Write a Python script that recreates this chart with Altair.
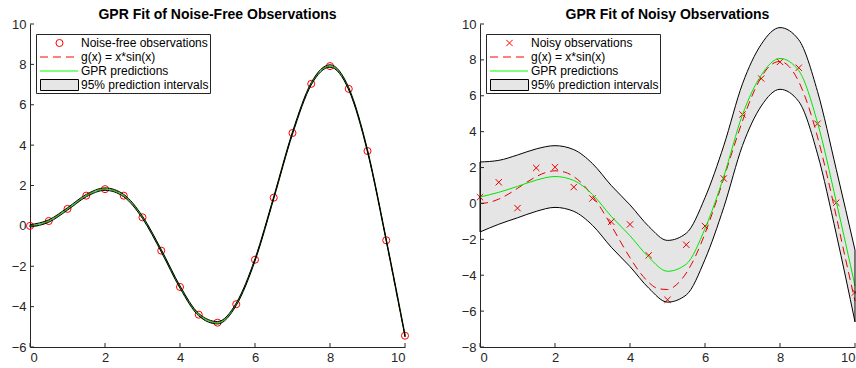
import altair as alt
import pandas as pd

# ---------------- data ----------------
x_obs = [0.0, 0.5, 1.0, 1.5, 2.0, 2.5, 3.0, 3.5, 4.0, 4.5, 5.0,
         5.5, 6.0, 6.5, 7.0, 7.5, 8.0, 8.5, 9.0, 9.5, 10.0]

y_noise_free = [0.0, 0.24, 0.841, 1.496, 1.819, 1.496, 0.423, -1.228, -3.027, -4.399, -4.795,
                -3.88, -1.676, 1.398, 4.599, 7.035, 7.915, 6.787, 3.709, -0.714, -5.44]

y_noisy = [0.35, 1.18, -0.26, 1.98, 2.02, 0.91, 0.28, -1.02, -1.17, -2.89, -5.37,
           -2.3, -1.26, 1.39, 4.96, 6.96, 7.89, 7.56, 4.44, 0.04, -4.96]

x_fine = [0.0, 0.25, 0.5, 0.75, 1.0, 1.25, 1.5, 1.75, 2.0, 2.25, 2.5, 2.75, 3.0, 3.25,
          3.5, 3.75, 4.0, 4.25, 4.5, 4.75, 5.0, 5.25, 5.5, 5.75, 6.0, 6.25, 6.5, 6.75,
          7.0, 7.25, 7.5, 7.75, 8.0, 8.25, 8.5, 8.75, 9.0, 9.25, 9.5, 9.75, 10.0]
g_fine = [0.0, 0.062, 0.24, 0.511, 0.841, 1.186, 1.496, 1.722, 1.819, 1.751, 1.496, 1.05,
          0.423, -0.352, -1.228, -2.144, -3.027, -3.804, -4.399, -4.747, -4.795, -4.509,
          -3.88, -2.923, -1.676, -0.207, 1.398, 3.038, 4.599, 5.972, 7.035, 7.708, 7.915,
          7.612, 6.787, 5.467, 3.709, 1.609, -0.714, -3.115, -5.44]

pred_noise_free = [0.0, 0.24, 0.841, 1.496, 1.819, 1.496, 0.423, -1.228, -3.027, -4.399, -4.795,
                   -3.88, -1.676, 1.398, 4.599, 7.035, 7.915, 6.787, 3.709, -0.714, -5.44]
upper_noise_free = [0.06, 0.30, 0.90, 1.56, 1.88, 1.56, 0.48, -1.17, -2.97, -4.34, -4.74,
                    -3.82, -1.62, 1.46, 4.66, 7.10, 7.98, 6.85, 3.77, -0.65, -5.38]
lower_noise_free = [-0.06, 0.18, 0.78, 1.44, 1.76, 1.44, 0.36, -1.29, -3.09, -4.46, -4.86,
                    -3.94, -1.74, 1.34, 4.54, 6.98, 7.86, 6.73, 3.65, -0.77, -5.50]

pred_noisy = [0.36, 0.62, 0.95, 1.3, 1.5, 1.28, 0.5, -0.72, -1.8, -3.0, -3.78,
              -3.38, -1.4, 1.5, 4.95, 7.15, 8.08, 7.4, 4.5, 0.1, -4.6]
upper_noisy = [2.31, 2.40, 2.70, 3.04, 3.22, 3.00, 2.22, 1.00, -0.08, -1.28, -2.06,
               -1.66, 0.32, 3.22, 6.67, 8.87, 9.80, 9.12, 6.24, 1.90, -2.60]
lower_noisy = [-1.59, -1.16, -0.80, -0.44, -0.22, -0.44, -1.22, -2.44, -3.52, -4.72, -5.50,
               -5.10, -3.12, -0.22, 3.23, 5.43, 6.36, 5.68, 2.76, -1.70, -6.60]

x_tick_values = [0, 2, 4, 6, 8, 10]

# ---------------- style ----------------
W, H = 375, 323
FONT = "Liberation Sans"
AX = "#262626"
RED = "#ff0000"
GREEN = "#00ff00"
X_SHAPE = "M-1,-1L1,1M-1,1L1,-1"


def make_panel(title, y_min, y_max, y_obs, obs_shape, obs_size, obs_label, pred, lower, upper):
    xs = alt.Scale(domain=[0, 10], nice=False, zero=False)
    ys = alt.Scale(domain=[y_min, y_max], nice=False, zero=False)
    y_tick_values = list(range(y_min, y_max + 1, 2))
    common = dict(title=None, grid=False, ticks=False, tickSize=0, domainColor=AX,
                  domainWidth=1, labelColor=AX, labelFont=FONT, labelFontSize=13,
                  format="d", labelPadding=4)
    X = alt.X("x:Q", scale=xs, axis=alt.Axis(values=x_tick_values, **common))
    Y = alt.Y("y:Q", scale=ys, axis=alt.Axis(values=y_tick_values, **common))

    obs_df = pd.DataFrame({"x": x_obs, "y": y_obs})
    fine_df = pd.DataFrame({"x": x_fine, "y": g_fine})
    pred_df = pd.DataFrame({"x": x_obs, "y": pred})
    band_df = pd.DataFrame({"x": x_obs, "y": lower, "y2": upper})
    xt_df = pd.DataFrame({"x": x_tick_values})
    yt_df = pd.DataFrame({"y": y_tick_values})
    one = pd.DataFrame({"i": [0]})

    obs = alt.Chart(obs_df).mark_point(shape=obs_shape, filled=False, color=RED,
                                       strokeWidth=1, size=obs_size, opacity=1).encode(x=X, y=Y)
    g_line = alt.Chart(fine_df).mark_line(color=RED, strokeDash=[8, 5], strokeWidth=1,
                                          interpolate="monotone").encode(x=X, y=Y)
    p_line = alt.Chart(pred_df).mark_line(color=GREEN, strokeWidth=1,
                                          interpolate="monotone").encode(x=X, y=Y)
    band = alt.Chart(band_df).mark_area(fill="black", fillOpacity=0.1, stroke="black",
                                        strokeWidth=1, interpolate="monotone").encode(
        x=X, y=Y, y2=alt.Y2("y2:Q"))
    xt = alt.Chart(xt_df).mark_rule(color=AX, strokeWidth=1).encode(
        x=X, y=alt.value(H), y2=alt.value(H - 4))
    yt = alt.Chart(yt_df).mark_rule(color=AX, strokeWidth=1).encode(
        y=Y, x=alt.value(0), x2=alt.value(4))

    # legend (decoration)
    box = alt.Chart(one).mark_rect(fill="white", stroke=AX, strokeWidth=1).encode(
        x=alt.value(6.5), x2=alt.value(180.5), y=alt.value(10.5), y2=alt.value(69.5))
    rows = [19, 33, 47, 61]
    l_obs = alt.Chart(one).mark_point(shape=obs_shape, filled=False, color=RED,
                                      strokeWidth=1, size=obs_size, opacity=1).encode(
        x=alt.value(29.5), y=alt.value(rows[0]))
    l_g = alt.Chart(one).mark_rule(color=RED, strokeDash=[8, 5], strokeWidth=1).encode(
        x=alt.value(10), x2=alt.value(48), y=alt.value(rows[1]))
    l_p = alt.Chart(one).mark_rule(color=GREEN, strokeWidth=1).encode(
        x=alt.value(10), x2=alt.value(48), y=alt.value(rows[2]))
    l_b = alt.Chart(one).mark_rect(fill="#e6e6e6", stroke="black", strokeWidth=1).encode(
        x=alt.value(10.5), x2=alt.value(48.5), y=alt.value(55.5), y2=alt.value(66.5))
    labels = [obs_label, "g(x) = x*sin(x)", "GPR predictions", "95% prediction intervals"]
    texts = [alt.Chart(one).mark_text(text=t, align="left", baseline="middle", font=FONT,
                                      fontSize=12, color="black").encode(
        x=alt.value(51), y=alt.value(r)) for t, r in zip(labels, rows)]

    return alt.layer(obs, g_line, p_line, band, xt, yt, box, l_obs, l_g, l_p, l_b, *texts).properties(
        width=W, height=H,
        title=alt.TitleParams(title, font=FONT, fontSize=14, fontWeight="bold", color="black",
                              anchor="middle", frame="group", offset=-4))


left = make_panel("GPR Fit of Noise-Free Observations", -6, 10, y_noise_free, "circle", 50,
                  "Noise-free observations", pred_noise_free, lower_noise_free, upper_noise_free)
right = make_panel("GPR Fit of Noisy Observations", -8, 10, y_noisy, X_SHAPE, 40,
                   "Noisy observations", pred_noisy, lower_noisy, upper_noisy)

chart = alt.hconcat(left, right, spacing=75, bounds="flush").properties(
    padding={"left": 11, "top": 8, "right": -5, "bottom": 0},
    background="white",
).configure_view(stroke=None)

chart.save("out.html", embed_options={"renderer": "svg", "actions": False})
